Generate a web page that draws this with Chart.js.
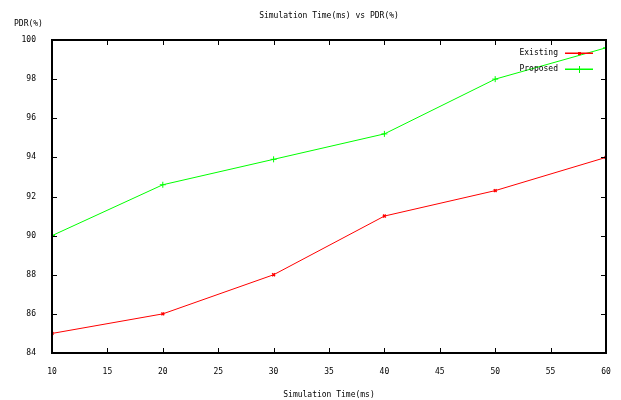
<!DOCTYPE html>
<html lang="en">
    <head>
        <meta charset="utf-8" />
        <script src="https://cdn.jsdelivr.net/npm/chart.js@4.4.1/dist/chart.umd.min.js"></script>
        <title>Simulation Time(ms) vs PDR(%)</title>
        <style>
            html, body { margin: 0; padding: 0; background: #fff; }
            #grafico { display: block; }
        </style>
    </head>
    <body>
        <canvas id="grafico" width="621" height="400"></canvas>
        <script>
            const tiempos = [10, 20, 30, 40, 50, 60];
            const existente = [85, 86, 88, 91, 92.3, 94];
            const propuesto = [90, 92.6, 93.9, 95.2, 98, 99.6];
            const series = ["Existing", "Proposed"];
            const colores = ["#ff0000", "#00ff00"];
            const fuente = "'DejaVu Sans Mono', monospace";

            // marco, marcas hacia adentro, leyenda y titulos al estilo gnuplot
            const estilo = {
                id: "estilo",
                afterDraw(chart) {
                    const ctx = chart.ctx;
                    const a = chart.chartArea;
                    const sx = chart.scales.x;
                    const sy = chart.scales.y;
                    ctx.save();
                    ctx.strokeStyle = "#000";
                    ctx.lineWidth = 1;
                    sx.ticks.forEach((t) => {
                        const px = Math.round(sx.getPixelForValue(t.value)) + 0.5;
                        ctx.beginPath();
                        ctx.moveTo(px, a.bottom); ctx.lineTo(px, a.bottom - 5);
                        ctx.moveTo(px, a.top); ctx.lineTo(px, a.top + 5);
                        ctx.stroke();
                    });
                    sy.ticks.forEach((t) => {
                        const py = Math.round(sy.getPixelForValue(t.value)) + 0.5;
                        ctx.beginPath();
                        ctx.moveTo(a.left, py); ctx.lineTo(a.left + 5, py);
                        ctx.moveTo(a.right, py); ctx.lineTo(a.right - 5, py);
                        ctx.stroke();
                    });
                    ctx.lineWidth = 2;
                    ctx.strokeRect(a.left, a.top, a.right - a.left, a.bottom - a.top);

                    ctx.font = "8px " + fuente;
                    ctx.fillStyle = "#000";
                    ctx.textBaseline = "middle";
                    ctx.textAlign = "center";
                    ctx.fillText("Simulation Time(ms) vs PDR(%)", 329, 16);
                    ctx.textAlign = "left";
                    ctx.fillText("PDR(%)", a.left - 38, a.top - 16);

                    series.forEach((nombre, i) => {
                        const y = Math.round(a.top + 13 + i * 16);
                        ctx.fillStyle = "#000";
                        ctx.textAlign = "right";
                        ctx.fillText(nombre, a.right - 48, y);
                        ctx.fillStyle = colores[i];
                        ctx.fillRect(Math.round(a.right - 41), y - 0.5, 28, 1.5);
                        const mx = Math.round(a.right - 27);
                        if (i === 0) {
                            ctx.fillRect(mx - 1, y - 1, 3, 3);
                        } else {
                            ctx.fillRect(mx, y - 3, 1, 7);
                            ctx.fillRect(mx - 3, y, 7, 1);
                        }
                    });
                    ctx.restore();
                }
            };

            new Chart(document.getElementById("grafico").getContext("2d"), {
                type: "line",
                data: {
                    labels: tiempos,
                    datasets: [
                        {label: series[0], data: existente, borderColor: colores[0], backgroundColor: colores[0],
                         borderWidth: 1, pointStyle: "crossRot", pointRadius: 2, pointBorderWidth: 1.5, tension: 0},
                        {label: series[1], data: propuesto, borderColor: colores[1], backgroundColor: colores[1],
                         borderWidth: 1, pointStyle: "cross", pointRadius: 3, pointBorderWidth: 1, tension: 0}
                    ]
                },
                options: {
                    responsive: false,
                    animation: false,
                    events: [],
                    layout: { padding: { top: 40, right: 15, left: 0, bottom: 0 } },
                    scales: {
                        x: {
                            type: "linear",
                            min: 10, max: 60,
                            ticks: { stepSize: 5, padding: 6, color: "#000", font: { family: fuente, size: 8 }, maxRotation: 0 },
                            grid: { display: false },
                            border: { display: false },
                            title: { display: true, text: "Simulation Time(ms)", color: "#000", font: { family: fuente, size: 8 }, padding: { top: 12, bottom: 0 } },
                            afterFit: (s) => { s.height = 47; }
                        },
                        y: {
                            min: 84, max: 100,
                            ticks: { stepSize: 2, padding: 8, color: "#000", font: { family: fuente, size: 8 } },
                            grid: { display: false },
                            border: { display: false },
                            afterFit: (s) => { s.width = 52; }
                        }
                    },
                    plugins: {
                        legend: { display: false },
                        title: { display: false },
                        tooltip: { enabled: false }
                    }
                },
                plugins: [estilo]
            });
        </script>
    </body>
</html>
